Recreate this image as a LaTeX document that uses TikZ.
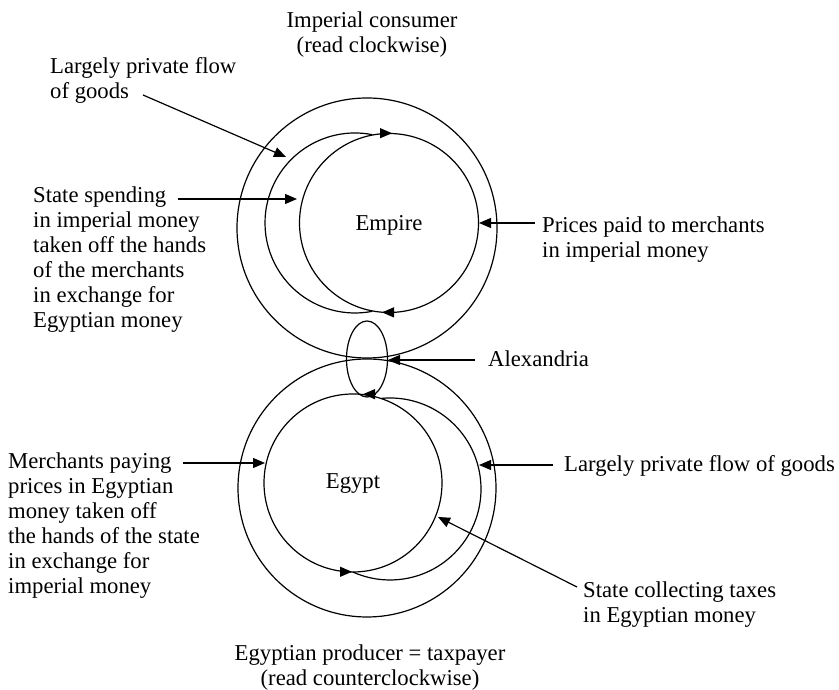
\documentclass[tikz,border=0pt]{standalone}
\usepackage{fontspec}
\setmainfont{Liberation Serif}
\usetikzlibrary{arrows.meta}
\begin{document}
\begin{tikzpicture}[x=1pt,y=1pt,
  ln/.style={line width=1.2pt},
  arr/.style={line width=1.2pt,-{Triangle[length=12pt,width=10pt]}},
  txt/.style={font=\fontsize{22.7}{25}\selectfont,inner sep=0pt,align=left},
  ctxt/.style={font=\fontsize{22.7}{25}\selectfont,inner sep=0pt,align=center}]
\useasboundingbox (0,0) rectangle (839,690);
% ---- top group (Empire)
\draw[ln] (367,462) circle[radius=130];
\draw[ln] (389,467) circle[radius=89.5];
\draw[ln] (355,467) ++(79:90) arc[start angle=79,end angle=281,radius=90];
\node[ctxt] (empire) at (389,465) {Empire};
% arrows on empire circle
\coordinate (et1) at (380,556.8); \coordinate (et2) at (392,556.8);
\draw[arr] (et1) -- (et2);
\coordinate (eb1) at (394,377.6); \coordinate (eb2) at (382,377.6);
\draw[arr] (eb1) -- (eb2);
% ---- bottom group (Egypt)
\draw[ln] (367,202) circle[radius=129];
\draw[ln] (353,207) circle[radius=89];
\draw[ln] (390,201) ++(95.8:91) arc[start angle=95.8,end angle=-114,radius=91];
\node[ctxt] (egypt) at (353,206) {Egypt};
\coordinate (gt1) at (375,295.8); \coordinate (gt2) at (363,295.8);
\draw[arr] (gt1) -- (gt2);
\coordinate (gb1) at (340,118.2); \coordinate (gb2) at (352,118.2);
\draw[arr] (gb1) -- (gb2);
% ---- Alexandria ellipse
\draw[ln] (367,331) ellipse[x radius=20.5,y radius=38];
% ---- texts
\node[ctxt,anchor=north] (imp) at (372,678) {Imperial consumer\\(read clockwise)};
\node[ctxt,anchor=north] (egp) at (370,45.5) {Egyptian producer = taxpayer\\(read counterclockwise)};
\node[txt,anchor=north west] (lpf1) at (50,633) {Largely private flow\\of goods};
\node[txt,anchor=north west] (ss) at (33,503) {State spending\\in imperial money\\taken off the hands\\of the merchants\\in exchange for\\Egyptian money};
\node[txt,anchor=north west] (pp) at (542,473) {Prices paid to merchants\\in imperial money};
\node[txt,anchor=base west] (alex) at (488,323) {Alexandria};
\node[txt,anchor=north west] (mp) at (8,237) {Merchants paying\\prices in Egyptian\\money taken off\\the hands of the state\\in exchange for\\imperial money};
\node[txt,anchor=base west] (lpf2) at (564,218) {Largely private flow of goods};
\node[txt,anchor=north west] (sc) at (583,108) {State collecting taxes\\in Egyptian money};
% ---- pointer arrows
\coordinate (a1s) at (143,595); \coordinate (a1e) at (286,533);
\draw[arr] (a1s) -- (a1e);
\coordinate (a2s) at (178,491); \coordinate (a2e) at (297,491);
\draw[arr] (a2s) -- (a2e);
\coordinate (a3s) at (535,467); \coordinate (a3e) at (479,467);
\draw[arr] (a3s) -- (a3e);
\coordinate (a4s) at (475,330); \coordinate (a4e) at (388,330);
\draw[arr] (a4s) -- (a4e);
\coordinate (a5s) at (183,227); \coordinate (a5e) at (265,227);
\draw[arr] (a5s) -- (a5e);
\coordinate (a6s) at (553,225); \coordinate (a6e) at (479,225);
\draw[arr] (a6s) -- (a6e);
\coordinate (a7s) at (577,103); \coordinate (a7e) at (438,173);
\draw[arr] (a7s) -- (a7e);
\end{tikzpicture}
\end{document}
